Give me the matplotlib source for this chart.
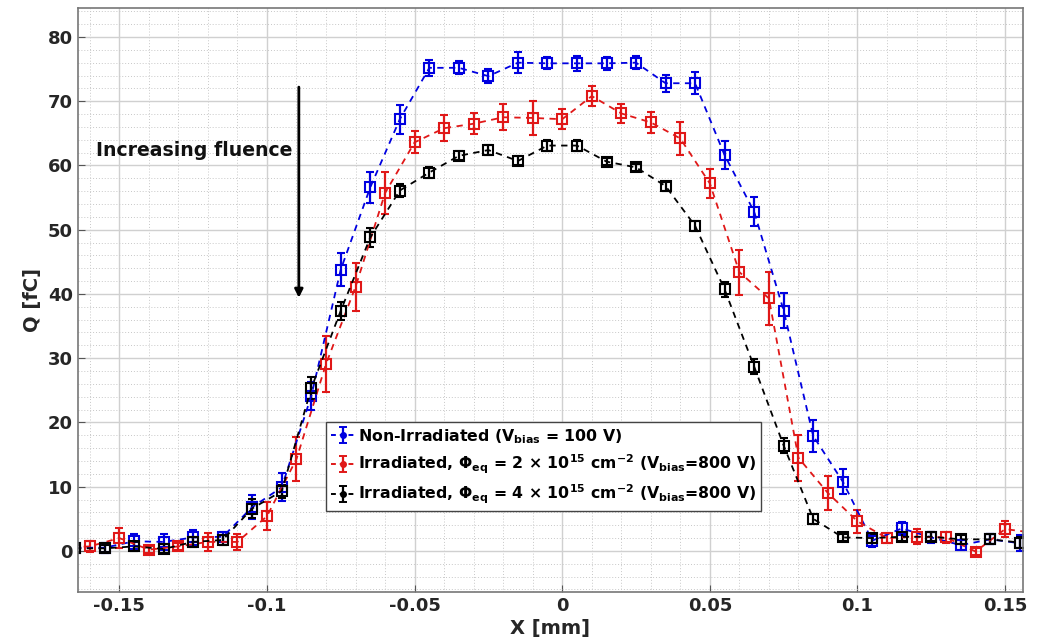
import numpy as np
import matplotlib
matplotlib.use("Agg")
import matplotlib.pyplot as plt

plt.rcParams['font.family'] = ['DejaVu Sans']
plt.rcParams['font.weight'] = 'bold'
plt.rcParams['mathtext.default'] = 'bf'

# ---- data ----
x_blue = [-0.165, -0.155, -0.145, -0.135, -0.125, -0.115, -0.105, -0.095, -0.085, -0.075,
          -0.065, -0.055, -0.045, -0.035, -0.025, -0.015, -0.005, 0.005, 0.015, 0.025,
          0.035, 0.045, 0.055, 0.065, 0.075, 0.085, 0.095, 0.105, 0.115, 0.125,
          0.135, 0.145, 0.155]
q_blue = [0.5, 0.5, 1.5, 1.4, 2.1, 2.2, 6.8, 9.9, 24.1, 43.8,
          56.6, 67.2, 75.2, 75.2, 73.9, 76.0, 75.9, 75.9, 75.9, 76.0,
          72.8, 72.8, 61.6, 52.8, 37.4, 17.9, 10.8, 1.6, 3.5, 2.1,
          0.9, 1.8, 1.2]
e_blue = [0.8, 0.8, 1.2, 1.2, 1.2, 0.8, 1.9, 2.2, 2.2, 2.6,
          2.4, 2.25, 1.25, 1.0, 1.1, 1.6, 0.95, 1.15, 1.0, 1.0,
          1.3, 1.7, 2.15, 2.3, 2.7, 2.5, 1.9, 1.0, 1.0, 0.8,
          0.8, 0.8, 1.2]

x_red = [-0.17, -0.16, -0.15, -0.14, -0.13, -0.12, -0.11, -0.10, -0.09, -0.08,
         -0.07, -0.06, -0.05, -0.04, -0.03, -0.02, -0.01, 0.00, 0.01, 0.02,
         0.03, 0.04, 0.05, 0.06, 0.07, 0.08, 0.09, 0.10, 0.11, 0.12,
         0.13, 0.14, 0.15, 0.16]
q_red = [0.5, 0.7, 2.0, 0.2, 0.7, 1.4, 1.4, 5.4, 14.3, 29.1,
         41.1, 55.7, 63.6, 65.8, 66.5, 67.5, 67.4, 67.2, 70.8, 68.1,
         66.7, 64.2, 57.2, 43.4, 39.3, 14.5, 9.0, 4.6, 2.0, 2.2,
         2.1, -0.1, 3.4, 2.8]
e_red = [0.8, 0.8, 1.6, 0.6, 0.6, 1.4, 1.3, 2.2, 3.4, 4.4,
         3.7, 3.3, 1.7, 2.0, 1.6, 2.0, 2.6, 1.6, 1.5, 1.5,
         1.6, 2.5, 2.3, 3.5, 4.1, 3.6, 2.7, 1.8, 0.8, 1.2,
         0.8, 0.6, 1.3, 1.0]

x_black = x_blue
q_black = [0.4, 0.4, 0.7, 0.3, 1.4, 1.7, 6.6, 9.3, 25.3, 37.4,
           48.8, 56.1, 58.9, 61.5, 62.4, 60.7, 63.1, 63.1, 60.6, 59.7,
           56.8, 50.6, 40.7, 28.7, 16.4, 5.0, 2.1, 2.0, 2.2, 2.2,
           1.8, 1.8, 1.3]
e_black = [0.5, 0.5, 0.7, 0.7, 0.8, 0.8, 1.5, 1.0, 1.7, 1.4,
           1.5, 1.0, 0.8, 0.7, 0.8, 0.7, 0.8, 0.8, 0.6, 0.6,
           0.7, 0.8, 1.2, 1.2, 1.2, 0.8, 0.5, 0.7, 0.7, 0.7,
           0.7, 0.8, 0.8]

labels = [r'Non-Irradiated (V$_{bias}$ = 100 V)',
          r'Irradiated, $\Phi_{eq}$ = 2 $\times$ 10$^{15}$ cm$^{-2}$ (V$_{bias}$=800 V)',
          r'Irradiated, $\Phi_{eq}$ = 4 $\times$ 10$^{15}$ cm$^{-2}$ (V$_{bias}$=800 V)']
colors = ['#0000e0', '#e01818', '#000000']
x_ticks = [-0.15, -0.1, -0.05, 0, 0.05, 0.1, 0.15]
x_ticklabels = ['-0.15', '-0.1', '-0.05', '0', '0.05', '0.1', '0.15']
y_ticks = [0, 10, 20, 30, 40, 50, 60, 70, 80]

# ---- figure ----
fig = plt.figure(figsize=(10.48, 6.41), dpi=100)
ax = fig.add_axes([0.0744, 0.0764, 0.9016, 0.911])

series = [(x_blue, q_blue, e_blue), (x_red, q_red, e_red), (x_black, q_black, e_black)]
for (xs, qs, es), c in zip(series, colors):
    ax.errorbar(xs, qs, yerr=es, fmt='s', ls=(0, (3.5, 3)), color=c, lw=1.3,
                mfc='none', mec=c, mew=1.5, ms=6.5, elinewidth=1.6, capsize=3,
                capthick=1.4, clip_on=True)

# legend proxies
handles = []
for c in colors:
    h = ax.errorbar([np.nan], [np.nan], yerr=[1], fmt='o', ls=(0, (2.5, 2)), color=c,
                    lw=1.4, ms=4, elinewidth=1.6, capsize=3, capthick=1.4)
    handles.append(h)

leg = ax.legend(handles, labels, loc='upper left', bbox_to_anchor=(0.2625, 0.291),
                fontsize=11.3, frameon=True, fancybox=False, framealpha=1,
                edgecolor='#444444', handlelength=1.6, handletextpad=0.15,
                borderpad=0.3, labelspacing=0.45, borderaxespad=0)
leg.get_frame().set_linewidth(1.0)
for t in leg.get_texts():
    t.set_fontweight('bold')

ax.set_xlim(-0.164, 0.156)
ax.set_ylim(-6.4, 84.5)
ax.set_xticks(x_ticks)
ax.set_xticklabels(x_ticklabels)
ax.set_yticks(y_ticks)
ax.set_xticks(np.arange(-0.16, 0.16, 0.01), minor=True)
ax.set_yticks(np.arange(-6, 85, 2), minor=True)
ax.tick_params(axis='both', which='major', labelsize=13, direction='in', length=5,
               color='#555555', labelcolor='#262626')
ax.tick_params(axis='both', which='minor', length=0)
for lbl in ax.get_xticklabels() + ax.get_yticklabels():
    lbl.set_fontweight('bold')

ax.grid(True, which='major', color='#d0d0d0', lw=1.0, ls='-')
ax.grid(True, which='minor', color='#c8c8c8', lw=0.7, ls=(0, (1, 2)))
ax.set_axisbelow(True)
for s in ax.spines.values():
    s.set_color('#777777')
    s.set_linewidth(1.2)

ax.set_xlabel('X [mm]', fontsize=14, fontweight='bold', color='#262626', labelpad=3)
ax.set_ylabel('Q [fC]', fontsize=14, fontweight='bold', color='#262626', labelpad=4)

ax.text(-0.1245, 62.4, 'Increasing fluence', fontsize=13.6, fontweight='bold',
        ha='center', va='center', color='#111111')
ax.annotate('', xy=(-0.0892, 39.4), xytext=(-0.0892, 72.2),
            arrowprops=dict(arrowstyle='-|>', color='black', lw=2,
                            mutation_scale=12, shrinkA=0, shrinkB=0))

fig.savefig('out.png', dpi=100)
